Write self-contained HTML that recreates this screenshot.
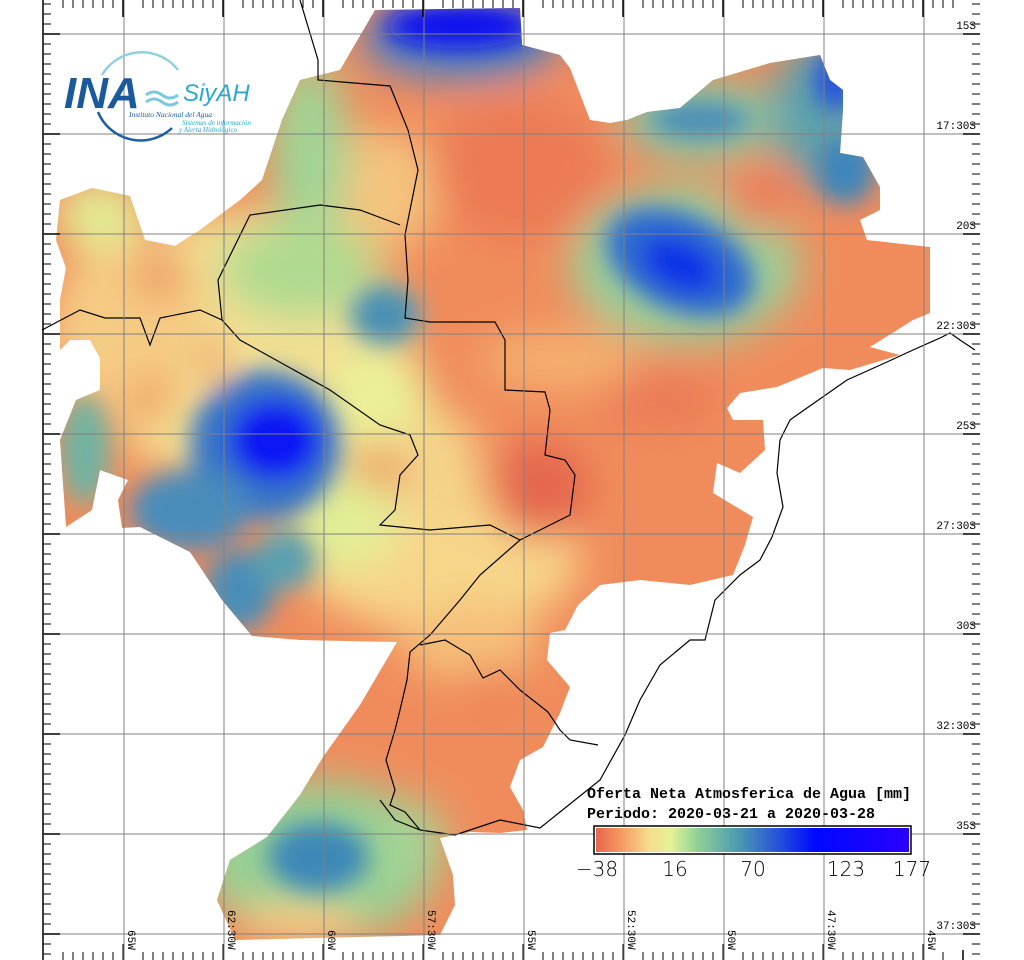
<!DOCTYPE html>
<html><head><meta charset="utf-8"><style>
html,body{margin:0;padding:0;background:#fff}
svg{display:block}
</style></head><body>
<svg width="1024" height="960" viewBox="0 0 1024 960" xmlns="http://www.w3.org/2000/svg">
<defs>
<filter id="b" x="-50%" y="-50%" width="200%" height="200%"><feGaussianBlur stdDeviation="20"/></filter>
<filter id="b2" x="-50%" y="-50%" width="200%" height="200%"><feGaussianBlur stdDeviation="12"/></filter>
<clipPath id="reg"><polygon points="375,10 520,8 522,45 560,55 570,68 590,120 610,123 627,120 647,112 680,108 713,80 770,63 820,55 830,80 843,90 843,110 840,153 863,157 880,187 880,210 860,220 867,240 930,247 930,313 913,320 870,347 900,355 850,370 823,368 777,387 740,393 727,408 733,420 763,420 765,450 740,473 717,463 713,493 753,517 745,545 733,575 690,585 640,580 600,585 578,605 565,630 550,633 547,660 570,687 560,713 543,747 520,760 510,787 523,810 527,830 500,833 470,832 440,838 453,875 455,905 440,935 235,940 217,900 230,860 267,837 300,795 323,757 360,705 397,642 300,640 252,636 222,600 190,552 140,527 122,528 118,500 128,480 100,470 92,510 66,527 60,440 76,400 100,390 100,358 90,340 70,340 60,350 60,300 66,268 56,240 60,200 92,188 130,196 145,240 175,246 200,230 240,200 262,180 282,120 300,80 340,70"/></clipPath>
<linearGradient id="cb" x1="0" x2="1">
<stop offset="0" stop-color="#e8664e"/><stop offset="0.08" stop-color="#f59a62"/><stop offset="0.17" stop-color="#f7dc8e"/><stop offset="0.24" stop-color="#e4f296"/><stop offset="0.32" stop-color="#92d294"/><stop offset="0.45" stop-color="#4e9cb0"/><stop offset="0.6" stop-color="#2048e0"/><stop offset="0.7" stop-color="#0008ff"/><stop offset="1" stop-color="#2a00ff"/>
</linearGradient>
</defs>
<g clip-path="url(#reg)">
<rect x="0" y="0" width="1024" height="960" fill="#f08c5c"/>
<g filter="url(#b)">
<ellipse cx="250" cy="350" rx="160" ry="140" fill="#f3e092"/>
<ellipse cx="130" cy="330" rx="80" ry="90" fill="#f5cc84"/>
<ellipse cx="100" cy="215" rx="45" ry="35" fill="#e2ee96"/>
<ellipse cx="160" cy="275" rx="30" ry="25" fill="#f09a66"/>
<ellipse cx="150" cy="400" rx="22" ry="22" fill="#f0905e"/>
<ellipse cx="110" cy="470" rx="20" ry="22" fill="#f0905e"/>
<ellipse cx="380" cy="190" rx="60" ry="60" fill="#f4c47e"/>
<ellipse cx="310" cy="150" rx="40" ry="90" fill="#a0d494"/>
<ellipse cx="300" cy="270" rx="80" ry="50" fill="#b0da90"/>
<ellipse cx="440" cy="560" rx="140" ry="70" fill="#f7d68a"/>
<ellipse cx="340" cy="520" rx="60" ry="50" fill="#e2ee96"/>
<ellipse cx="380" cy="400" rx="50" ry="50" fill="#eaf098"/>
<ellipse cx="440" cy="470" rx="40" ry="60" fill="#f4d48a"/>
<ellipse cx="700" cy="120" rx="80" ry="40" fill="#8cc8a0"/>
<ellipse cx="820" cy="110" rx="50" ry="70" fill="#5ea2ac"/>
<ellipse cx="685" cy="265" rx="115" ry="80" fill="#9ccf98"/>
<ellipse cx="760" cy="200" rx="35" ry="30" fill="#ec7c56"/>
<ellipse cx="520" cy="170" rx="90" ry="70" fill="#ec7a54"/>
<ellipse cx="560" cy="360" rx="80" ry="30" fill="#f5b070"/>
<ellipse cx="660" cy="400" rx="60" ry="30" fill="#eb7a56"/>
<ellipse cx="540" cy="490" rx="50" ry="50" fill="#e5664e"/>
<ellipse cx="320" cy="860" rx="120" ry="80" fill="#98d094"/>
<ellipse cx="410" cy="840" rx="35" ry="40" fill="#a4d494"/>
<ellipse cx="470" cy="640" rx="70" ry="40" fill="#f5c07a"/>
<ellipse cx="490" cy="690" rx="30" ry="25" fill="#ef8458"/>
<ellipse cx="300" cy="920" rx="60" ry="20" fill="#f3d088"/>
<ellipse cx="460" cy="40" rx="100" ry="40" fill="#4a80c8"/>
</g>
<g filter="url(#b2)">
<ellipse cx="460" cy="26" rx="75" ry="22" fill="#0810f0"/>
<ellipse cx="680" cy="262" rx="78" ry="48" fill="#2e6ad0" transform="rotate(25 680 262)"/>
<ellipse cx="680" cy="265" rx="40" ry="24" fill="#1030e8" transform="rotate(25 680 265)"/>
<ellipse cx="700" cy="120" rx="50" ry="18" fill="#4a8cb8"/>
<ellipse cx="835" cy="80" rx="20" ry="30" fill="#2050e0"/>
<ellipse cx="845" cy="170" rx="30" ry="35" fill="#3e86bc"/>
<ellipse cx="265" cy="445" rx="75" ry="75" fill="#3874c6"/>
<ellipse cx="275" cy="440" rx="45" ry="40" fill="#0818f4"/>
<ellipse cx="190" cy="510" rx="60" ry="40" fill="#4a8cbc"/>
<ellipse cx="240" cy="590" rx="35" ry="40" fill="#4a8eb8"/>
<ellipse cx="285" cy="560" rx="30" ry="30" fill="#5aa0b0"/>
<ellipse cx="385" cy="315" rx="35" ry="30" fill="#4a90b4"/>
<ellipse cx="85" cy="450" rx="25" ry="55" fill="#70b4a2"/>
<ellipse cx="210" cy="360" rx="25" ry="30" fill="#f1c480"/>
<ellipse cx="318" cy="857" rx="50" ry="35" fill="#3e88b8"/>
</g>
</g>
<!-- borders / coast -->
<g fill="none" stroke="#000" stroke-width="1.2">
<polyline points="300,0 318,60 318,80 390,86 408,130 418,170 405,235 408,280 405,318 430,322 495,322 505,340 505,390 545,392 550,410 545,455 565,460 575,475 570,515 530,535 520,540 480,575 460,600 430,635 410,652 407,680 400,710 395,730 386,760 395,790 390,805 405,812 420,830 455,835 500,820 540,828 560,812 600,780 625,735 640,700 660,665 690,640 705,640 715,600 740,575 760,560 772,537 783,507 777,473 780,440 790,420 807,408 847,380 887,362 913,350 940,338 950,333 960,340 975,350"/>
<polyline points="42,330 80,310 105,318 140,318 150,345 160,318 200,310 222,320 240,340 330,390 380,425 410,435 418,455 400,475 395,510 380,525 430,530 490,525 520,540"/>
<polyline points="222,320 218,280 250,215 320,205 360,210 400,225"/>
<polyline points="420,645 445,640 470,655 483,678 500,670 520,690 548,712 560,730 570,740 598,745"/>
<polyline points="380,800 395,820 420,830"/>
</g>
<!-- grid -->
<g stroke="#808080" stroke-width="1">
<line x1="124" y1="0" x2="124" y2="960"/><line x1="224" y1="0" x2="224" y2="960"/><line x1="324" y1="0" x2="324" y2="960"/><line x1="424" y1="0" x2="424" y2="960"/><line x1="524" y1="0" x2="524" y2="960"/><line x1="624" y1="0" x2="624" y2="960"/><line x1="724" y1="0" x2="724" y2="960"/><line x1="824" y1="0" x2="824" y2="960"/><line x1="924" y1="0" x2="924" y2="960"/>
<line x1="42" y1="34" x2="980" y2="34"/><line x1="42" y1="134" x2="980" y2="134"/><line x1="42" y1="234" x2="980" y2="234"/><line x1="42" y1="334" x2="980" y2="334"/><line x1="42" y1="434" x2="980" y2="434"/><line x1="42" y1="534" x2="980" y2="534"/><line x1="42" y1="634" x2="980" y2="634"/><line x1="42" y1="734" x2="980" y2="734"/><line x1="42" y1="834" x2="980" y2="834"/><line x1="42" y1="934" x2="980" y2="934"/>
</g>
<g stroke="#000" stroke-width="1.5">
<line x1="43" y1="0" x2="43" y2="960"/>
<line x1="44" y1="34" x2="60" y2="34"/><line x1="44" y1="134" x2="60" y2="134"/><line x1="44" y1="234" x2="60" y2="234"/><line x1="44" y1="334" x2="60" y2="334"/><line x1="44" y1="434" x2="60" y2="434"/><line x1="44" y1="534" x2="60" y2="534"/><line x1="44" y1="634" x2="60" y2="634"/><line x1="44" y1="734" x2="60" y2="734"/><line x1="44" y1="834" x2="60" y2="834"/><line x1="44" y1="934" x2="60" y2="934"/>
<line x1="123" y1="0" x2="123" y2="17"/><line x1="223" y1="0" x2="223" y2="17"/><line x1="323" y1="0" x2="323" y2="17"/><line x1="423" y1="0" x2="423" y2="17"/><line x1="523" y1="0" x2="523" y2="17"/><line x1="623" y1="0" x2="623" y2="17"/><line x1="723" y1="0" x2="723" y2="17"/><line x1="823" y1="0" x2="823" y2="17"/><line x1="923" y1="0" x2="923" y2="17"/>
<line x1="963" y1="34" x2="980" y2="34"/><line x1="963" y1="134" x2="980" y2="134"/><line x1="963" y1="234" x2="980" y2="234"/><line x1="963" y1="334" x2="980" y2="334"/><line x1="963" y1="434" x2="980" y2="434"/><line x1="963" y1="534" x2="980" y2="534"/><line x1="963" y1="634" x2="980" y2="634"/><line x1="963" y1="734" x2="980" y2="734"/><line x1="963" y1="834" x2="980" y2="834"/><line x1="963" y1="934" x2="980" y2="934"/>
<line x1="963" y1="950" x2="963" y2="960"/>
</g>
<g stroke="#000" stroke-width="1">
<path d="M43,4h8M43,14h8M43,24h8M43,44h8M43,54h8M43,64h8M43,74h8M43,84h8M43,94h8M43,104h8M43,114h8M43,124h8M43,144h8M43,154h8M43,164h8M43,174h8M43,184h8M43,194h8M43,204h8M43,214h8M43,224h8M43,244h8M43,254h8M43,264h8M43,274h8M43,284h8M43,294h8M43,304h8M43,314h8M43,324h8M43,344h8M43,354h8M43,364h8M43,374h8M43,384h8M43,394h8M43,404h8M43,414h8M43,424h8M43,444h8M43,454h8M43,464h8M43,474h8M43,484h8M43,494h8M43,504h8M43,514h8M43,524h8M43,544h8M43,554h8M43,564h8M43,574h8M43,584h8M43,594h8M43,604h8M43,614h8M43,624h8M43,644h8M43,654h8M43,664h8M43,674h8M43,684h8M43,694h8M43,704h8M43,714h8M43,724h8M43,744h8M43,754h8M43,764h8M43,774h8M43,784h8M43,794h8M43,804h8M43,814h8M43,824h8M43,844h8M43,854h8M43,864h8M43,874h8M43,884h8M43,894h8M43,904h8M43,914h8M43,924h8M43,944h8M43,954h8"/>
<path d="M972,4h8M972,14h8M972,24h8M972,44h8M972,54h8M972,64h8M972,74h8M972,84h8M972,94h8M972,104h8M972,114h8M972,124h8M972,144h8M972,154h8M972,164h8M972,174h8M972,184h8M972,194h8M972,204h8M972,214h8M972,224h8M972,244h8M972,254h8M972,264h8M972,274h8M972,284h8M972,294h8M972,304h8M972,314h8M972,324h8M972,344h8M972,354h8M972,364h8M972,374h8M972,384h8M972,394h8M972,404h8M972,414h8M972,424h8M972,444h8M972,454h8M972,464h8M972,474h8M972,484h8M972,494h8M972,504h8M972,514h8M972,524h8M972,544h8M972,554h8M972,564h8M972,574h8M972,584h8M972,594h8M972,604h8M972,614h8M972,624h8M972,644h8M972,654h8M972,664h8M972,674h8M972,684h8M972,694h8M972,704h8M972,714h8M972,724h8M972,744h8M972,754h8M972,764h8M972,774h8M972,784h8M972,794h8M972,804h8M972,814h8M972,824h8M972,844h8M972,854h8M972,864h8M972,874h8M972,884h8M972,894h8M972,904h8M972,914h8M972,924h8M972,944h8M972,954h8"/>
<path d="M63,0v8M73,0v8M83,0v8M93,0v8M103,0v8M113,0v8M143,0v8M153,0v8M163,0v8M173,0v8M183,0v8M193,0v8M203,0v8M213,0v8M243,0v8M253,0v8M263,0v8M273,0v8M283,0v8M293,0v8M303,0v8M313,0v8M343,0v8M353,0v8M363,0v8M373,0v8M383,0v8M393,0v8M403,0v8M413,0v8M443,0v8M453,0v8M463,0v8M473,0v8M483,0v8M493,0v8M503,0v8M513,0v8M543,0v8M553,0v8M563,0v8M573,0v8M583,0v8M593,0v8M603,0v8M613,0v8M643,0v8M653,0v8M663,0v8M673,0v8M683,0v8M693,0v8M703,0v8M713,0v8M743,0v8M753,0v8M763,0v8M773,0v8M783,0v8M793,0v8M803,0v8M813,0v8M843,0v8M853,0v8M863,0v8M873,0v8M883,0v8M893,0v8M903,0v8M913,0v8M933,0v8M943,0v8M953,0v8"/>
<path d="M63,952v8M73,952v8M83,952v8M93,952v8M103,952v8M113,952v8M123,944v16M143,952v8M153,952v8M163,952v8M173,952v8M183,952v8M193,952v8M203,952v8M213,952v8M223,944v16M243,952v8M253,952v8M263,952v8M273,952v8M283,952v8M293,952v8M303,952v8M313,952v8M323,944v16M343,952v8M353,952v8M363,952v8M373,952v8M383,952v8M393,952v8M403,952v8M413,952v8M423,944v16M443,952v8M453,952v8M463,952v8M473,952v8M483,952v8M493,952v8M503,952v8M513,952v8M523,944v16M543,952v8M553,952v8M563,952v8M573,952v8M583,952v8M593,952v8M603,952v8M613,952v8M623,944v16M643,952v8M653,952v8M663,952v8M673,952v8M683,952v8M693,952v8M703,952v8M713,952v8M723,944v16M743,952v8M753,952v8M763,952v8M773,952v8M783,952v8M793,952v8M803,952v8M813,952v8M823,944v16M843,952v8M853,952v8M863,952v8M873,952v8M883,952v8M893,952v8M903,952v8M913,952v8M923,944v16M943,952v8"/>
</g>
<g style="font-family:'Liberation Mono',monospace" font-size="11" text-anchor="end" fill="#000">
<text x="976" y="29">15S</text><text x="976" y="129">17:30S</text><text x="976" y="229">20S</text><text x="976" y="329">22:30S</text><text x="976" y="429">25S</text><text x="976" y="529">27:30S</text><text x="976" y="629">30S</text><text x="976" y="729">32:30S</text><text x="976" y="829">35S</text><text x="976" y="929">37:30S</text>
</g>
<g style="font-family:'Liberation Mono',monospace" font-size="11" fill="#000">
<text transform="translate(128,930) rotate(90)">65W</text>
<text transform="translate(228,910) rotate(90)">62:30W</text>
<text transform="translate(328,930) rotate(90)">60W</text>
<text transform="translate(428,910) rotate(90)">57:30W</text>
<text transform="translate(528,930) rotate(90)">55W</text>
<text transform="translate(628,910) rotate(90)">52:30W</text>
<text transform="translate(728,930) rotate(90)">50W</text>
<text transform="translate(828,910) rotate(90)">47:30W</text>
<text transform="translate(928,930) rotate(90)">45W</text>
</g>
<g style="font-family:'Liberation Mono',monospace" font-size="15" font-weight="bold" fill="#000">
<text x="587" y="798">Oferta Neta Atmosferica de Agua [mm]</text>
<text x="587" y="818">Periodo: 2020-03-21 a 2020-03-28</text>
</g>
<rect x="594" y="826" width="317" height="28" fill="#fff" stroke="#000" stroke-width="1.5"/>
<rect x="596" y="828" width="313" height="24" fill="url(#cb)"/>
<g style="font-family:'DejaVu Sans',sans-serif;font-weight:200" font-size="20" text-anchor="middle" fill="#000">
<text x="597" y="876">−38</text>
<text x="675" y="876">16</text>
<text x="753" y="876">70</text>
<text x="846" y="876">123</text>
<text x="912" y="876">177</text>
</g>
<path d="M102,75 A46,46 0 0 1 178,70" fill="none" stroke="#8fd0e0" stroke-width="2.5"/>
<path d="M98,112 A46,46 0 0 0 172,128" fill="none" stroke="#1d5fa0" stroke-width="2.5"/>
<text x="64" y="108" style="font-family:'Liberation Sans',sans-serif;font-style:italic;font-weight:bold" font-size="44" fill="#1a5a9c">INA</text>
<path d="M146,95 q8,-6 16,0 t16,0 M146,102 q8,-6 16,0 t16,0" fill="none" stroke="#7cc8dc" stroke-width="3"/>
<text x="183" y="101" style="font-family:'Liberation Sans',sans-serif;font-style:italic" font-size="24" fill="#2aa8d0">SiyAH</text>
<text x="129" y="117" style="font-family:'Liberation Serif',serif;font-style:italic" font-size="7.5" fill="#1a5a9c">Instituto Nacional del Agua</text>
<text x="182" y="125" style="font-family:'Liberation Serif',serif;font-style:italic" font-size="7" fill="#2aa8d0">Sistemas de información</text>
<text x="179" y="132" style="font-family:'Liberation Serif',serif;font-style:italic" font-size="7" fill="#2aa8d0">y Alerta Hidrológico</text>
</svg>
</body></html>
